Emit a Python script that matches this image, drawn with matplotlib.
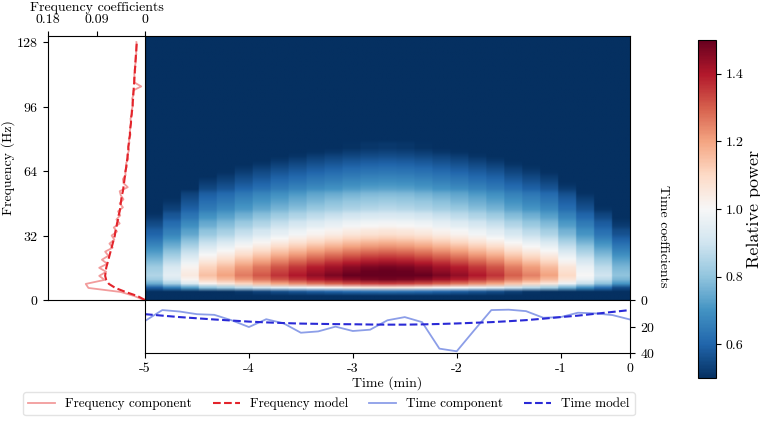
import numpy as np
import matplotlib
matplotlib.use("Agg")
import matplotlib.pyplot as plt

plt.rcParams["font.family"] = "serif"
plt.rcParams["font.serif"] = ["cmr10", "DejaVu Serif"]
plt.rcParams["mathtext.fontset"] = "cm"
plt.rcParams["axes.unicode_minus"] = False
plt.rcParams["axes.formatter.use_mathtext"] = True
plt.rcParams["font.size"] = 10

# ---- data ----
freq_hz = np.arange(0, 129, 2)

freq_model = [
    0.000, 0.014, 0.036, 0.055, 0.067, 0.072, 0.074, 0.073, 0.072, 0.070,
    0.068, 0.066, 0.064, 0.062, 0.060, 0.058, 0.056, 0.055, 0.053, 0.052,
    0.050, 0.049, 0.047, 0.046, 0.045, 0.044, 0.043, 0.041, 0.040, 0.039,
    0.038, 0.037, 0.036, 0.035, 0.034, 0.033, 0.032, 0.031, 0.031, 0.030,
    0.029, 0.028, 0.028, 0.027, 0.026, 0.026, 0.025, 0.024, 0.023, 0.023,
    0.022, 0.022, 0.021, 0.021, 0.020, 0.020, 0.019, 0.019, 0.018, 0.018,
    0.017, 0.017, 0.016, 0.016, 0.015,
]

freq_component = [
    0.002, 0.020, 0.045, 0.105, 0.110, 0.075, 0.085, 0.072, 0.085, 0.070,
    0.080, 0.068, 0.074, 0.060, 0.066, 0.057, 0.062, 0.052, 0.058, 0.047,
    0.053, 0.046, 0.050, 0.041, 0.047, 0.040, 0.045, 0.047, 0.032, 0.040,
    0.041, 0.036, 0.037, 0.034, 0.035, 0.031, 0.033, 0.030, 0.031, 0.029,
    0.030, 0.027, 0.028, 0.027, 0.026, 0.027, 0.024, 0.025, 0.023, 0.022,
    0.024, 0.021, 0.022, 0.007, 0.020, 0.019, 0.020, 0.018, 0.019, 0.017,
    0.018, 0.016, 0.017, 0.015, 0.016,
]

time_s = np.arange(0, 281, 10)

time_model = [
    10.7, 11.8, 12.9, 13.8, 14.7, 15.5, 16.3, 16.9, 17.4, 17.8,
    18.0, 18.2, 18.3, 18.5, 18.6, 18.6, 18.4, 18.1, 17.7, 17.2,
    16.7, 16.0, 15.2, 14.1, 12.9, 11.8, 10.4, 9.0, 7.6,
]

time_component = [
    15.8, 7.6, 8.7, 10.7, 11.2, 15.3, 20.4, 14.5, 17.6, 24.7,
    23.7, 20.1, 23.4, 22.4, 15.3, 12.9, 16.7, 36.7, 38.7, 23.0,
    7.6, 7.3, 8.4, 13.4, 12.9, 9.6, 10.1, 11.4, 14.7,
]

# relative power at the spectral peak for each spectrogram window
column_peak = [
    0.85, 0.95, 1.05, 1.15, 1.20, 1.26, 1.31, 1.36, 1.40, 1.44,
    1.47, 1.50, 1.52, 1.53, 1.52, 1.50, 1.47, 1.44, 1.40, 1.36,
    1.30, 1.25, 1.20, 1.10, 1.00, 0.90, 0.80,
]

time_ticks = [0, 60, 120, 180, 240, 280]
time_labels = ["-5", "-4", "-3", "-2", "-1", "0"]

c_fcomp = "#f29c9c"
c_fmod = "#e3242b"
c_tcomp = "#8c9ee8"
c_tmod = "#2a2ad6"

# heatmap: frequency profile x window peak
fm = np.array(freq_model)
profile = (fm / fm.max()) ** 1.25
power = np.outer(profile, np.array(column_peak))
power = np.repeat(power, 12, axis=1)

fig = plt.figure(figsize=(7.6, 4.22), dpi=100)
ax_main = fig.add_axes([0.1908, 0.289, 0.638, 0.6256])
ax_freq = fig.add_axes([0.0632, 0.289, 0.1276, 0.6256], sharey=ax_main)
ax_time = fig.add_axes([0.1908, 0.1635, 0.638, 0.1256], sharex=ax_main)
cax = fig.add_axes([0.918, 0.104, 0.0237, 0.801])

im = ax_main.imshow(power, origin="lower", aspect="auto", cmap="RdBu_r",
                    vmin=0.5, vmax=1.5, extent=(0, 280, -1, 131),
                    interpolation="bilinear")
ax_main.set_xlim(0, 280)
ax_main.set_ylim(0, 131)
ax_main.tick_params(labelleft=False, labelbottom=False, bottom=False,
                    direction="out", length=3.5)

# frequency side panel
ax_freq.plot(freq_component, freq_hz, color=c_fcomp, lw=1.3,
             label="Frequency component")
ax_freq.plot(freq_model, freq_hz, color=c_fmod, lw=1.5, ls="--",
             label="Frequency model")
ax_freq.set_xlim(0.18, 0)
ax_freq.xaxis.tick_top()
ax_freq.xaxis.set_label_position("top")
ax_freq.set_xticks([0.18, 0.09, 0])
ax_freq.set_xticklabels(["0.18", "0.09", "0"])
ax_freq.set_xlabel("Frequency coefficients", labelpad=2)
ax_freq.set_yticks([0, 32, 64, 96, 128])
ax_freq.set_ylabel("Frequency (Hz)", labelpad=1)
ax_freq.tick_params(direction="out", length=3.5)

# time panel
ax_time.plot(time_s, time_component, color=c_tcomp, lw=1.3,
             label="Time component")
ax_time.plot(time_s, time_model, color=c_tmod, lw=1.5, ls="--",
             label="Time model")
ax_time.set_ylim(40, 0)
ax_time.yaxis.tick_right()
ax_time.set_yticks([0, 20, 40])
ax_time.set_xticks(time_ticks)
ax_time.set_xticklabels(time_labels)
ax_time.set_xlabel("Time (min)", labelpad=1)
ax_time.tick_params(direction="out", length=3.5)
fig.text(0.872, 0.44, "Time coefficients", rotation=270,
         ha="center", va="center", fontsize=10)

cb = fig.colorbar(im, cax=cax)
cb.set_ticks([0.6, 0.8, 1.0, 1.2, 1.4])
cb.set_ticklabels(["0.6", "0.8", "1.0", "1.2", "1.4"])
cb.set_label("Relative power", fontsize=13, labelpad=2)
cb.ax.tick_params(direction="out", length=3.5)

handles = ax_freq.get_lines() + ax_time.get_lines()
fig.legend(handles, [h.get_label() for h in handles], loc="lower center",
           ncol=4, bbox_to_anchor=(0.433, 0.0), frameon=True, fancybox=True,
           edgecolor="#dddddd", fontsize=9.5, handlelength=2.0,
           columnspacing=1.6, borderpad=0.4)

fig.savefig("out.png", dpi=100)
